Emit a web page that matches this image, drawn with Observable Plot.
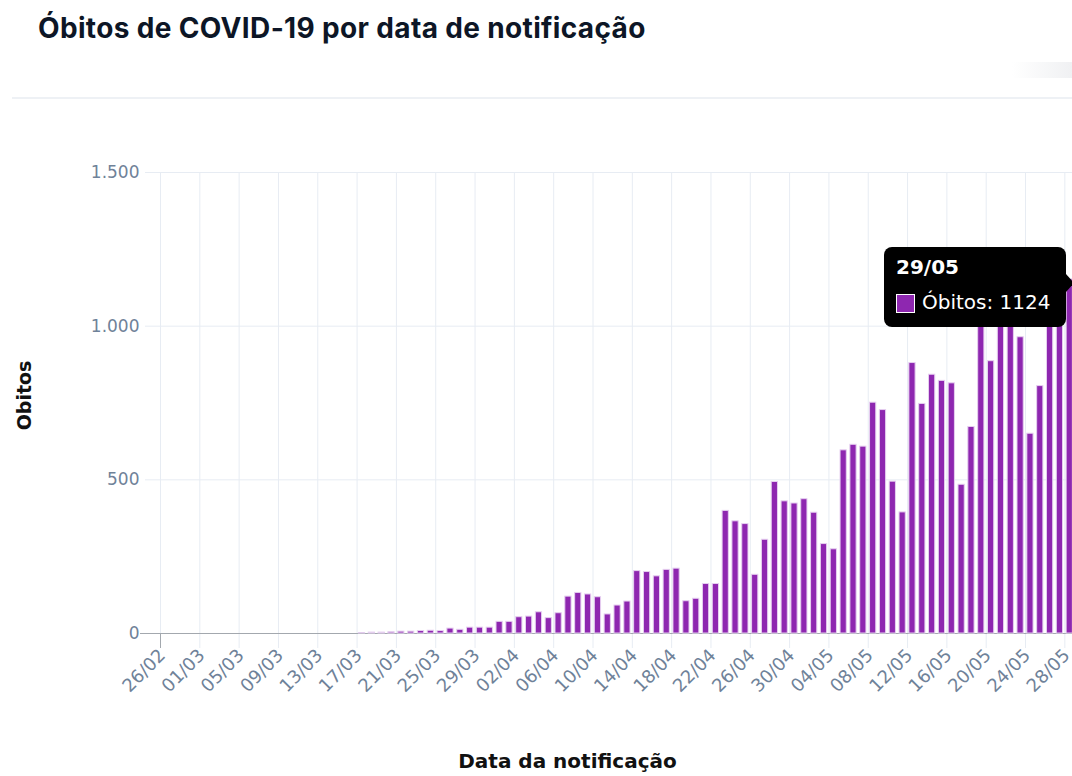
<!DOCTYPE html>
<html>
<head>
<meta charset="utf-8">
<script src="https://cdn.jsdelivr.net/npm/d3@7"></script>
<script src="https://cdn.jsdelivr.net/npm/@observablehq/plot@0.6"></script>
<style>
  html, body { margin: 0; padding: 0; background: #fff; }
  body { width: 1072px; height: 776px; overflow: hidden; position: relative; font-family: "DejaVu Sans", sans-serif; }
  #title { position: absolute; left: 38px; top: 11px; font: 700 28px Inter, sans-serif; color: #0d1626; letter-spacing: 0.35px; white-space: nowrap; }
  #sep { position: absolute; left: 12px; top: 97px; width: 1060px; height: 2px; background: #eef1f5; }
  #btn { position: absolute; left: 1012px; top: 62px; width: 60px; height: 16px; background: linear-gradient(to right, #fff, #f0f1f3); }
  #chart { position: absolute; left: 0; top: 100px; }
  #tip { position: absolute; left: 884px; top: 247px; width: 182px; height: 80px; background: #000; border-radius: 8px; color: #fff; }
  #tip::after { content: ""; position: absolute; right: -8px; top: 27px; border-top: 9px solid transparent; border-bottom: 9px solid transparent; border-left: 8px solid #000; }
  #tip .d { position: absolute; left: 12px; top: 8px; font: 700 20px "DejaVu Sans", sans-serif; }
  #tip .sw { position: absolute; left: 12px; top: 47px; width: 17px; height: 17px; border: 1.5px solid #fff; }
  #tip .v { position: absolute; left: 38px; top: 43px; font: 400 20px "DejaVu Sans", sans-serif; }
</style>
</head>
<body>
<div id="title">Óbitos de COVID-19 por data de notificação</div>
<div id="btn"></div>
<div id="sep"></div>
<div id="chart"></div>
<div id="tip"><div class="d"></div><div class="sw"></div><div class="v"></div></div>
<script>
// Categories: notification dates (26/02 – 29/05)
const dates = [
  "26/02","27/02","28/02","29/02",
  "01/03","02/03","03/03","04/03","05/03","06/03","07/03","08/03","09/03","10/03",
  "11/03","12/03","13/03","14/03","15/03","16/03","17/03","18/03","19/03","20/03",
  "21/03","22/03","23/03","24/03","25/03","26/03","27/03","28/03","29/03","30/03","31/03",
  "01/04","02/04","03/04","04/04","05/04","06/04","07/04","08/04","09/04","10/04",
  "11/04","12/04","13/04","14/04","15/04","16/04","17/04","18/04","19/04","20/04",
  "21/04","22/04","23/04","24/04","25/04","26/04","27/04","28/04","29/04","30/04",
  "01/05","02/05","03/05","04/05","05/05","06/05","07/05","08/05","09/05","10/05",
  "11/05","12/05","13/05","14/05","15/05","16/05","17/05","18/05","19/05","20/05",
  "21/05","22/05","23/05","24/05","25/05","26/05","27/05","28/05","29/05"
];
// Deaths per notification date
const obitos = [
  0,0,0,0,
  0,0,0,0,0,0,0,0,0,0,
  0,0,0,0,0,0,1,3,3,4,
  6,6,8,9,8,16,12,19,19,19,38,
  38,53,55,69,50,66,120,132,127,118,
  62,91,104,203,200,186,207,211,105,113,
  161,161,399,365,356,191,305,493,430,423,
  437,393,291,274,596,614,608,751,727,494,
  394,880,747,842,822,814,484,672,1179,886,
  1188,1001,964,650,805,1039,1086,1152,1124
];
const yTicks = [0, 500, 1000, 1500];
const tickStep = 4;
const tooltipIndex = dates.length - 1;

const BAR = "#8e27b0";
const GRID = "#e7ecf3";
const LABEL = "#6f8299";

const data = dates.map((d, i) => ({ i, date: d, v: obitos[i] }));
const tickIdx = d3.range(0, dates.length, tickStep);
const fmt = d3.formatLocale({ decimal: ",", thousands: ".", grouping: [3], currency: ["R$", ""] }).format(",");

const chart = Plot.plot({
  width: 1072,
  height: 676,
  marginTop: 72,
  marginBottom: 143,
  marginLeft: 160,
  marginRight: -12,
  style: { fontFamily: "DejaVu Sans, sans-serif", background: "transparent", overflow: "hidden" },
  x: { type: "linear", domain: [0, dates.length], axis: null },
  y: { domain: [0, 1500], axis: null },
  marks: [
    Plot.ruleX(tickIdx, { x: d => d, stroke: GRID, strokeWidth: 1, insetBottom: -15 }),
    Plot.ruleY(yTicks, { y: d => d, stroke: GRID, strokeWidth: 1, insetLeft: -15 }),
    Plot.ruleY([0], { y: d => d, stroke: "#a3a8ae", strokeWidth: 1, insetLeft: -20 }),
    Plot.ruleX([0], { x: d => d, y1: 0, y2: 0, stroke: "#a3a8ae", strokeWidth: 1, insetBottom: -15 }),
    Plot.rectY(data.filter(d => d.v > 0), {
      x1: d => d.i, x2: d => d.i + 1, y: "v",
      fill: BAR, stroke: "#e6cff0", strokeWidth: 1,
      insetLeft: 1.8, insetRight: 1.8
    }),
    Plot.text(yTicks, {
      x: 0, y: d => d, text: d => fmt(d),
      textAnchor: "end", dx: -21, fill: LABEL, fontSize: 17
    }),
    Plot.text(tickIdx, {
      x: d => d + 0.5, frameAnchor: "bottom", text: d => dates[d],
      rotate: -45, textAnchor: "end", dx: 1, dy: 23, fill: LABEL, fontSize: 18
    }),
    Plot.text(["Obitos"], {
      frameAnchor: "left", text: d => d, rotate: -90, textAnchor: "middle",
      dx: -136, dy: -7.5, fontSize: 19, fontWeight: "bold", fill: "#111"
    }),
    Plot.text(["Data da notificação"], {
      frameAnchor: "bottom", text: d => d, textAnchor: "middle",
      dx: -55, dy: 134, fontSize: 20, fontWeight: "bold", fill: "#111"
    })
  ]
});
document.getElementById("chart").appendChild(chart);

const tip = document.getElementById("tip");
tip.querySelector(".d").textContent = dates[tooltipIndex];
tip.querySelector(".sw").style.background = BAR;
tip.querySelector(".v").textContent = "Óbitos: " + obitos[tooltipIndex];
</script>
</body>
</html>
